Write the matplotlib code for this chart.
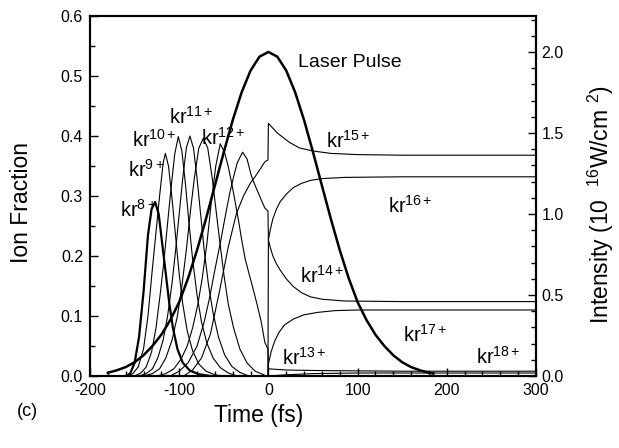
import matplotlib
matplotlib.use("Agg")
import matplotlib.pyplot as plt
from matplotlib.ticker import MultipleLocator, FormatStrFormatter

plt.rcParams['font.family'] = ['Liberation Sans', 'DejaVu Sans']
plt.rcParams['mathtext.fontset'] = 'custom'
plt.rcParams['mathtext.rm'] = 'Liberation Sans'
plt.rcParams['mathtext.it'] = 'Liberation Sans'
plt.rcParams['mathtext.bf'] = 'Liberation Sans'
plt.rcParams['axes.unicode_minus'] = False

# ---------------- data ----------------
t8 = [-160, -155, -150, -145, -140, -135, -131, -127, -123, -119, -115, -111, -107, -102, -96, -88, -78, -65]
v8 = [0.0, 0.004, 0.022, 0.065, 0.14, 0.235, 0.278, 0.29, 0.27, 0.22, 0.17, 0.12, 0.08, 0.045, 0.022, 0.009, 0.003, 0.0]

t9 = [-158, -152, -146, -140, -135, -130, -126, -122, -118, -115.5, -112, -108, -104, -100, -96, -91, -85, -78, -70, -60, -50]
v9 = [0.0, 0.004, 0.015, 0.045, 0.10, 0.18, 0.24, 0.30, 0.355, 0.371, 0.35, 0.295, 0.232, 0.17, 0.12, 0.075, 0.042, 0.02, 0.008, 0.002, 0.0]

t10 = [-150, -143, -137, -131, -126, -121, -117, -113, -109, -105, -101, -97, -93, -89, -85, -80, -75, -69, -62, -54, -45, -35]
v10 = [0.0, 0.005, 0.015, 0.04, 0.08, 0.14, 0.193, 0.255, 0.315, 0.37, 0.399, 0.375, 0.32, 0.255, 0.195, 0.135, 0.09, 0.055, 0.03, 0.014, 0.005, 0.0]

t11 = [-145, -137, -130, -124, -118, -113, -108, -104, -100, -96, -92, -88, -84, -80, -76, -72, -67, -62, -56, -49, -41, -32, -22]
v11 = [0.0, 0.004, 0.012, 0.03, 0.06, 0.1, 0.155, 0.21, 0.27, 0.33, 0.38, 0.40, 0.38, 0.33, 0.27, 0.21, 0.15, 0.105, 0.065, 0.035, 0.016, 0.006, 0.0]

t12 = [-140, -130, -122, -115, -108, -102, -97, -92, -87, -83, -78, -73, -68, -63, -59, -55, -50, -45, -39, -32, -24, -15, -5]
v12 = [0.0, 0.004, 0.012, 0.03, 0.06, 0.1, 0.15, 0.21, 0.28, 0.33, 0.38, 0.396, 0.38, 0.33, 0.28, 0.23, 0.17, 0.12, 0.08, 0.045, 0.022, 0.008, 0.002]

t13 = [-125, -115, -106, -98, -91, -85, -79, -74, -69, -64, -59, -54, -49, -45, -41, -37, -33, -30, -26, -22, -18, -13, -8, -4, -0.5, 0, 20, 60, 150, 300]
v13 = [0.0, 0.004, 0.012, 0.028, 0.05, 0.08, 0.12, 0.165, 0.22, 0.29, 0.35, 0.387, 0.372, 0.349, 0.32, 0.288, 0.255, 0.227, 0.195, 0.172, 0.15, 0.121, 0.09, 0.056, 0.045, 0.012, 0.01, 0.009, 0.008, 0.008]

t14 = [-110, -100, -90, -80, -72, -66, -60, -54, -47, -43, -39, -35, -29, -24, -19, -15, -11, -7, -4, -0.5, 0, 2, 5, 9, 13, 20, 28, 37, 47, 60, 85, 150, 300]
v14 = [0.0, 0.008, 0.022, 0.05, 0.09, 0.13, 0.177, 0.221, 0.277, 0.307, 0.332, 0.355, 0.373, 0.362, 0.333, 0.318, 0.304, 0.29, 0.28, 0.275, 0.227, 0.215, 0.2, 0.187, 0.177, 0.162, 0.149, 0.139, 0.132, 0.128, 0.125, 0.124, 0.124]

t15 = [-95, -85, -75, -65, -55, -45, -36, -28, -20, -15, -10, -4, -0.5, 0, 5, 10, 17, 24, 35, 50, 70, 100, 150, 300]
v15 = [0.0, 0.01, 0.03, 0.07, 0.14, 0.215, 0.27, 0.3, 0.322, 0.332, 0.343, 0.357, 0.36, 0.421, 0.413, 0.405, 0.397, 0.389, 0.38, 0.375, 0.371, 0.369, 0.368, 0.368]

t16 = [-0.5, 0, 2, 5, 9, 13, 20, 28, 37, 47, 60, 85, 150, 300]
v16 = [0.0, 0.227, 0.243, 0.262, 0.278, 0.29, 0.303, 0.314, 0.321, 0.326, 0.329, 0.331, 0.332, 0.332]

t17 = [-0.5, 0, 3, 7, 12, 18, 28, 40, 55, 75, 100, 150, 300]
v17 = [0.0, 0.02, 0.04, 0.058, 0.073, 0.085, 0.095, 0.102, 0.106, 0.109, 0.11, 0.11, 0.11]

t18 = [0, 20, 50, 100, 150, 300]
v18 = [0.0, 0.002, 0.004, 0.005, 0.005, 0.005]

t_laser = [-180, -170, -160, -150, -140, -130, -120, -110, -100, -90, -80, -70, -60, -50, -40, -30, -20, -10, 0,
           10, 20, 30, 40, 50, 60, 70, 80, 90, 100, 110, 120, 130, 140, 150, 160, 170, 180, 185]
I_laser = [0.02, 0.035, 0.055, 0.085, 0.128, 0.185, 0.255, 0.345, 0.456, 0.604, 0.777, 0.97, 1.175, 1.382, 1.579, 1.751, 1.885, 1.971, 2.0,
           1.971, 1.885, 1.751, 1.579, 1.382, 1.175, 0.97, 0.777, 0.604, 0.456, 0.345, 0.255, 0.185, 0.128, 0.085, 0.055, 0.035, 0.02, 0.015]

ion_series = [(t8, v8), (t9, v9), (t10, v10), (t11, v11), (t12, v12), (t13, v13), (t14, v14),
              (t15, v15), (t16, v16), (t17, v17), (t18, v18)]

labels = ['8+', '9+', '10+', '11+', '12+', '13+', '14+', '15+', '16+', '17+', '18+']
label_pos = [(-166, 0.265), (-157, 0.332), (-153, 0.382), (-111, 0.42), (-76, 0.386),
             (15, 0.018), (35, 0.155), (65, 0.38), (134, 0.272), (151, 0.057), (233, 0.021)]

# ---------------- figure ----------------
fig = plt.figure(figsize=(6.19, 4.48), dpi=100)
ax = fig.add_axes([90/619, 1-376/448, (536-90)/619, (376-16)/448])
ax2 = ax.twinx()

for i, (t, v) in enumerate(ion_series):
    ax.plot(t, v, color='black', lw=1.6 if i == 0 else 0.8, solid_joinstyle='round')

ax2.plot(t_laser, I_laser, color='black', lw=1.8)

ax.set_xlim(-200, 300)
ax.set_ylim(0, 0.6)
ax2.set_ylim(0, 2.222)

ax.xaxis.set_major_locator(MultipleLocator(100))
ax.xaxis.set_minor_locator(MultipleLocator(20))
ax.yaxis.set_major_locator(MultipleLocator(0.1))
ax.yaxis.set_minor_locator(MultipleLocator(0.05))
ax2.yaxis.set_major_locator(MultipleLocator(0.5))
ax2.yaxis.set_minor_locator(MultipleLocator(0.1))

ax.yaxis.set_major_formatter(FormatStrFormatter('%.1f'))
ax2.yaxis.set_major_formatter(FormatStrFormatter('%.1f'))

for a in (ax, ax2):
    a.tick_params(which='major', direction='in', length=6, width=1.0, labelsize=11.5, pad=4)
    a.tick_params(which='minor', direction='in', length=3.5, width=1.0)
    for s in a.spines.values():
        s.set_linewidth(1.5)
ax.tick_params(axis='y', right=False)
ax.tick_params(axis='x', top=False, pad=5)
ax.tick_params(axis='y', pad=5)

for lab, (x, y) in zip(labels, label_pos):
    ax.text(x, y, r'kr$^{\mathregular{' + lab + '}}$', fontsize=14.5, ha='left', va='baseline')

ax.text(33, 0.515, 'Laser Pulse', fontsize=14, ha='left', va='baseline')

fig.text(22/619, 1-202/448, 'Ion Fraction', rotation=90, fontsize=16.5, ha='center', va='center')
fig.text(259/619, 1-415/448, 'Time (fs)', fontsize=16.5, ha='center', va='center')
fig.text(17/619, 1-412/448, '(c)', fontsize=13, ha='left', va='center')
fig.text(601/619, 1-205/448, r'Intensity (10  $^{\mathregular{16}}$W/cm $^{\mathregular{2}}$)',
         rotation=90, fontsize=16.5, ha='center', va='center')

fig.savefig('out.png', dpi=100)
